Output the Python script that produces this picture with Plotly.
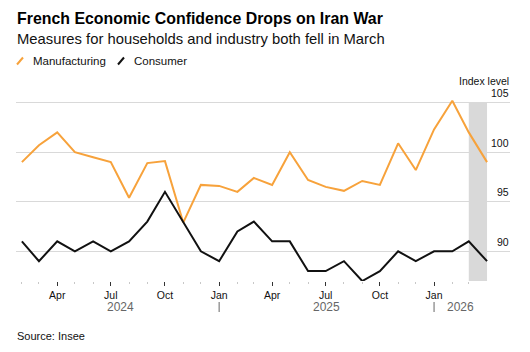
import plotly.graph_objects as go
import pandas as pd

# ---- data ----
months = ["2024-01", "2024-02", "2024-03", "2024-04", "2024-05", "2024-06",
          "2024-07", "2024-08", "2024-09", "2024-10", "2024-11", "2024-12",
          "2025-01", "2025-02", "2025-03", "2025-04", "2025-05", "2025-06",
          "2025-07", "2025-08", "2025-09", "2025-10", "2025-11", "2025-12",
          "2026-01", "2026-02", "2026-03"]
manufacturing = [99.0, 100.7, 102.0, 100.0, 99.5, 99.0, 95.4, 98.9, 99.1, 92.9,
                 96.7, 96.6, 96.0, 97.4, 96.7, 100.0, 97.2, 96.5, 96.1, 97.1,
                 96.7, 100.9, 98.2, 102.3, 105.2, 102.0, 99.0]
consumer = [91, 89, 91, 90, 91, 90, 91, 93, 96, 93, 90, 89, 92, 93, 91, 91,
            88, 88, 89, 87, 88, 90, 89, 90, 90, 91, 89]
y_tick_vals = [90, 95, 100, 105]
x_tick_dates = ["2024-04-01", "2024-07-01", "2024-10-01", "2025-01-01",
                "2025-04-01", "2025-07-01", "2025-10-01", "2026-01-01"]
x_tick_labels = ["Apr", "Jul", "Oct", "Jan", "Apr", "Jul", "Oct", "Jan"]
years = ["2024", "2025", "2026"]
highlight_month = "2026-03"
series_names = ["Manufacturing", "Consumer"]

ORANGE = "#f7a23b"
BLACK = "#111111"
FONT = "Liberation Sans, Arial, sans-serif"

# monthly values plotted at end of month
dates = [(pd.Period(m, "M") + 1).start_time for m in months]

# ---- layout geometry (pixels) ----
W, H = 530, 352
L, R, T, B = 16, 20, 98, 71
PW, PH = W - L - R, H - T - B


def px(x):
    return (x - L) / PW


def py(y):
    return (H - B - y) / PH


fig = go.Figure()
fig.add_trace(go.Scatter(x=dates, y=manufacturing, mode="lines", name=series_names[0],
                         line=dict(color=ORANGE, width=2), showlegend=False))
fig.add_trace(go.Scatter(x=dates, y=consumer, mode="lines", name=series_names[1],
                         line=dict(color=BLACK, width=2), showlegend=False))

y_min, y_max = 87.0, 87.0 + PH / 9.907

annotations = []
shapes = []

# highlight band for March 2026
hp = pd.Period(highlight_month, "M")
shapes.append(dict(type="rect", xref="x", yref="y",
                   x0=hp.start_time, x1=(hp + 1).start_time, y0=y_min, y1=105,
                   fillcolor="#d9d9d9", line=dict(width=0), layer="below"))

# minor month ticks (data range only)
minor_vals = [d for d in dates[:-1]]

fig.update_xaxes(
    type="date",
    range=["2024-01-22", "2026-05-10"],
    tickmode="array", tickvals=x_tick_dates, ticktext=x_tick_labels,
    ticks="outside", ticklen=4, tickwidth=1, tickcolor="#333333",
    tickfont=dict(family=FONT, size=10.5, color="#111111"),
    showgrid=False, zeroline=False, showline=False,
    minor=dict(tickmode="array", tickvals=minor_vals, ticks="outside",
               ticklen=2, tickwidth=1, tickcolor="#c8c8c8", showgrid=False),
)
fig.update_yaxes(
    side="right", range=[y_min, y_max],
    tickmode="array", tickvals=y_tick_vals, showticklabels=False, ticks="",
    showgrid=True, gridcolor="#d9d9d9", gridwidth=1,
    zeroline=False, showline=False,
)

# y tick labels above gridlines at right edge
for v in y_tick_vals:
    annotations.append(dict(text=str(v), x=px(511), y=v, xref="paper", yref="y",
                            xanchor="right", yanchor="middle", yshift=9.5, showarrow=False,
                            font=dict(family=FONT, size=10.5, color="#111111")))

# title / subtitle
annotations.append(dict(text="<b>French Economic Confidence Drops on Iran War</b>",
                        x=px(15), y=py(18.5), xref="paper", yref="paper",
                        xanchor="left", yanchor="middle", showarrow=False,
                        font=dict(family=FONT, size=15.9, color="#000000")))
annotations.append(dict(text="Measures for households and industry both fell in March",
                        x=px(15), y=py(39), xref="paper", yref="paper",
                        xanchor="left", yanchor="middle", showarrow=False,
                        font=dict(family=FONT, size=14.8, color="#111111")))

# custom legend
legend_items = [(series_names[0], ORANGE, 17, 31), (series_names[1], BLACK, 118, 132)]
for name, col, ix, tx in legend_items:
    shapes.append(dict(type="line", xref="paper", yref="paper",
                       x0=px(ix), y0=py(64.5), x1=px(ix + 6), y1=py(57.5),
                       line=dict(color=col, width=2)))
    annotations.append(dict(text=name, x=px(tx), y=py(60.5), xref="paper", yref="paper",
                            xanchor="left", yanchor="middle", showarrow=False,
                            font=dict(family=FONT, size=11.5, color="#111111")))

# axis unit label
annotations.append(dict(text="Index level", x=px(511), y=py(80.5), xref="paper", yref="paper",
                        xanchor="right", yanchor="middle", showarrow=False,
                        font=dict(family=FONT, size=10.5, color="#111111")))

# year labels and separators
for yr in years:
    start = max(dates[0], pd.Timestamp(f"{yr}-01-01"))
    end = min(dates[-1], pd.Timestamp(f"{int(yr) + 1}-01-01"))
    mid = start + (end - start) / 2
    annotations.append(dict(text=yr, x=mid, y=py(306.5), xref="x", yref="paper",
                            xanchor="center", yanchor="middle", showarrow=False,
                            font=dict(family=FONT, size=12, color="#666666")))
    if yr != years[0]:
        shapes.append(dict(type="line", xref="x", yref="paper",
                           x0=pd.Timestamp(f"{yr}-01-01"), x1=pd.Timestamp(f"{yr}-01-01"),
                           y0=py(302), y1=py(312), line=dict(color="#666666", width=1)))

# source
annotations.append(dict(text="Source: Insee", x=px(15), y=py(336), xref="paper", yref="paper",
                        xanchor="left", yanchor="middle", showarrow=False,
                        font=dict(family=FONT, size=11, color="#111111")))

fig.update_layout(
    width=W, height=H,
    margin=dict(l=L, r=R, t=T, b=B, pad=0),
    paper_bgcolor="white", plot_bgcolor="white",
    showlegend=False,
    annotations=annotations,
    shapes=shapes,
    font=dict(family=FONT),
)

fig.write_html("out.html")
